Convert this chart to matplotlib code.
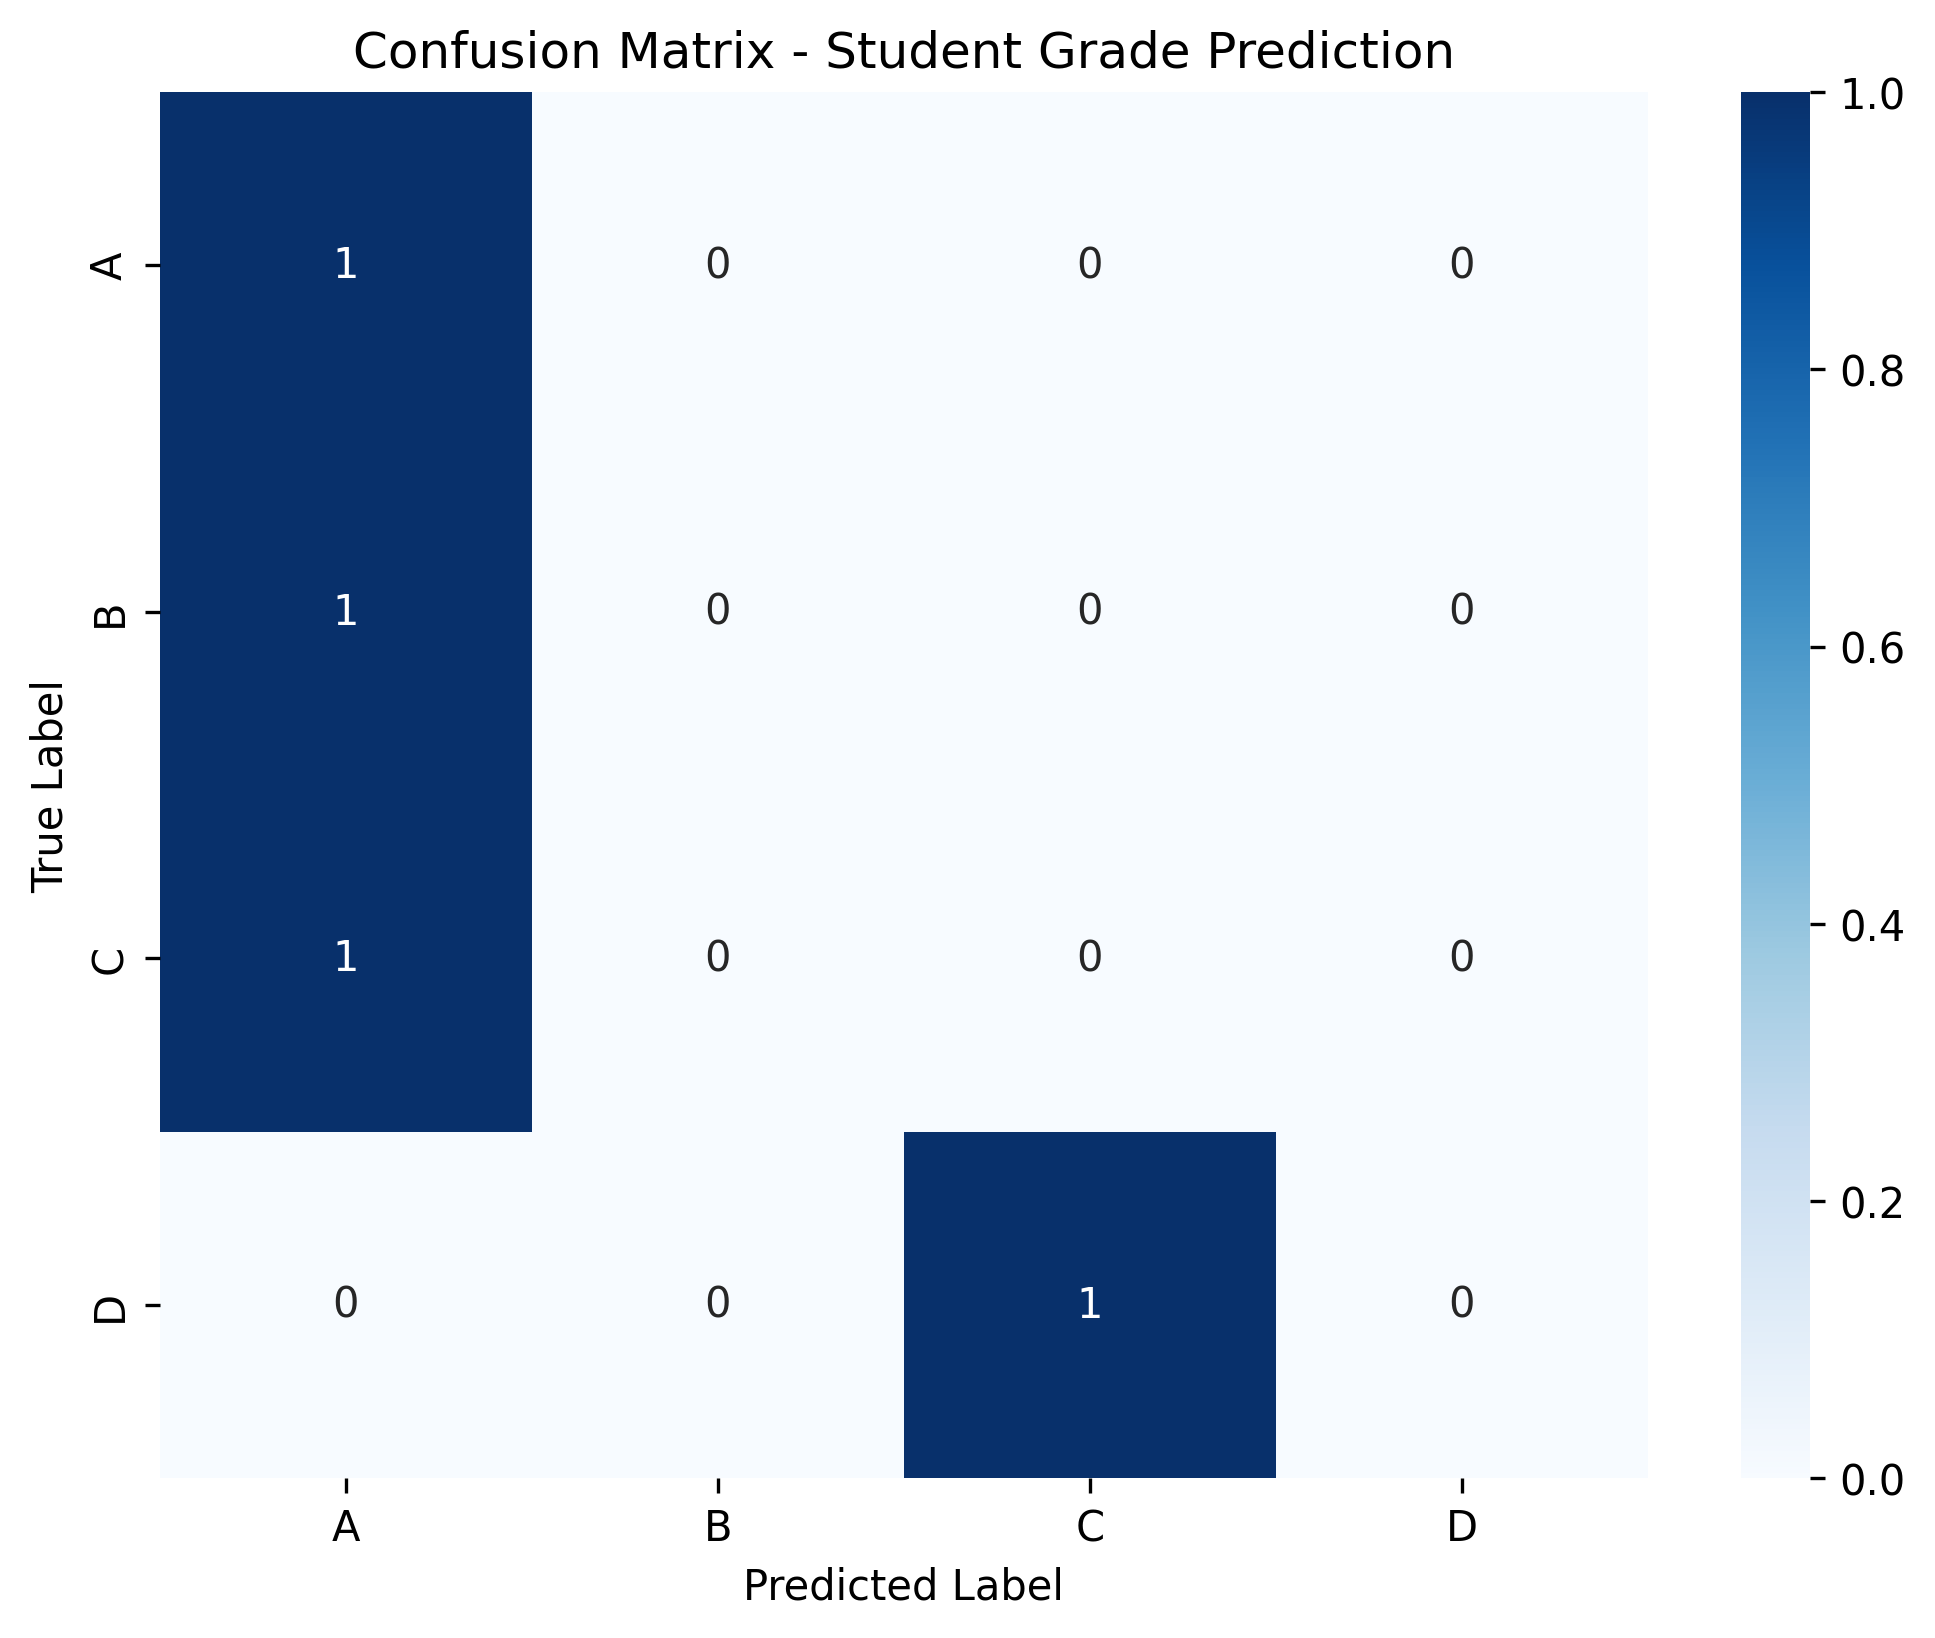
import matplotlib
matplotlib.use('Agg')
import matplotlib.pyplot as plt
import seaborn as sns
import numpy as np

# Grade classes and confusion counts (rows = true, cols = predicted)
grades = ['A', 'B', 'C', 'D']
row_A = [1, 0, 0, 0]
row_B = [1, 0, 0, 0]
row_C = [1, 0, 0, 0]
row_D = [0, 0, 1, 0]

cm = np.array([row_A, row_B, row_C, row_D])

plt.figure(figsize=(8, 6))
sns.heatmap(cm, annot=True, fmt='d', cmap='Blues',
            xticklabels=grades, yticklabels=grades)
plt.title('Confusion Matrix - Student Grade Prediction')
plt.xlabel('Predicted Label')
plt.ylabel('True Label')

plt.savefig('out.png', dpi=300, bbox_inches='tight')
